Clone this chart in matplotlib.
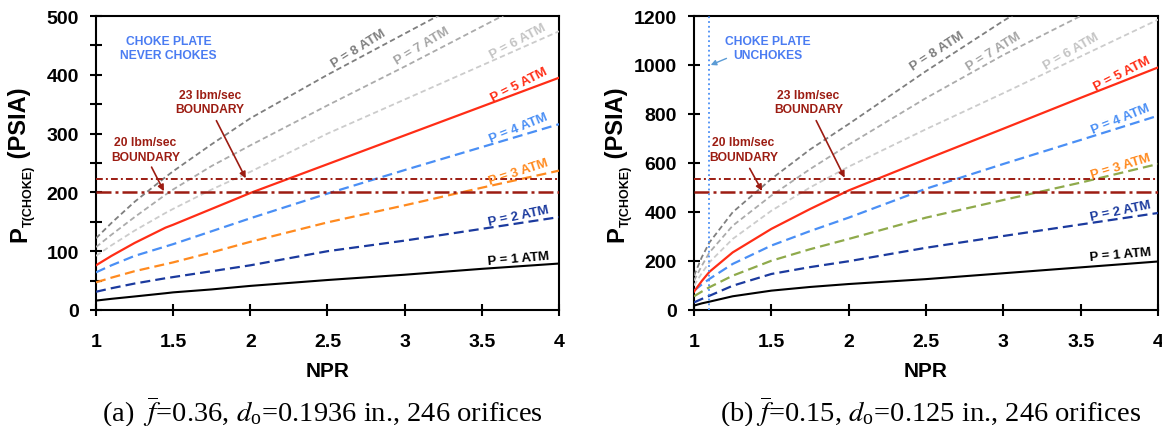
"""Choke-plate total pressure against NPR for two orifice plate designs."""

import matplotlib

matplotlib.use("Agg")
import matplotlib.pyplot as plt
from matplotlib.ticker import MultipleLocator
from matplotlib.transforms import IdentityTransform

plt.rcParams["font.family"] = ["Liberation Sans", "DejaVu Sans"]
plt.rcParams["mathtext.fontset"] = "stix"

# panel (a): f = 0.36, do = 0.1936 in.
NPR_A = [1.0, 1.1, 1.25, 1.45, 1.5, 1.75, 2.0, 2.5, 3.0, 3.5, 4.0]
A_P1 = [16, 19, 23, 28.5, 30, 35, 41, 51, 60, 70, 79]
A_P2 = [31, 37, 45, 54, 56, 66, 76, 100, 118, 138, 158]
A_P3 = [47, 55, 66, 78, 81, 98, 116, 149, 178, 208, 237]
A_P4 = [64, 76, 92, 108, 112, 134, 156, 198, 238, 277, 316]
A_P5 = [76, 92, 114, 140, 145, 172, 199, 248, 297, 346, 395]
A_P6 = [92, 110, 135, 165, 172, 205, 235, 300, 358, 416, 474]
A_P7 = [107, 128, 158, 196, 205, 245, 280, 348, 414, 482, 550]
A_P8 = [122, 148, 184, 226, 236, 282, 326, 400, 470, 540, 610]
A_BOUNDARY_20 = 200
A_BOUNDARY_23 = 222

# panel (b): f = 0.15, do = 0.125 in.
NPR_B = [1.0, 1.05, 1.1, 1.25, 1.5, 1.75, 2.0, 2.5, 3.0, 3.5, 4.0]
B_P1 = [18, 27, 34, 56, 79, 94, 106, 126, 150, 174, 198]
B_P2 = [31, 45, 58, 99, 147, 175, 199, 254, 302, 349, 396]
B_P3 = [56, 75, 93, 140, 201, 248, 290, 377, 449, 520, 596]
B_P4 = [79, 104, 127, 188, 263, 322, 377, 495, 596, 694, 793]
B_P5 = [75, 118, 156, 235, 331, 412, 488, 615, 740, 866, 990]
B_P6 = [100, 150, 195, 290, 405, 500, 585, 738, 885, 1035, 1185]
B_P7 = [120, 180, 235, 344, 467, 575, 675, 865, 1041, 1200, 1355]
B_P8 = [140, 215, 276, 399, 535, 655, 759, 975, 1180, 1370, 1550]
B_BOUNDARY_20 = 483
B_BOUNDARY_23 = 535
B_UNCHOKE_NPR = 1.1

PRESSURE_LABELS = [f"P = {p} ATM" for p in range(1, 9)]
X_TICKS = [1, 1.5, 2, 2.5, 3, 3.5, 4]
X_TICK_LABELS = ["1", "1.5", "2", "2.5", "3", "3.5", "4"]
CAPTION_A = r"(a)  $\overline{f}$=0.36, $d_\mathregular{o}$=0.1936 in., 246 orifices"
CAPTION_B = r"(b) $\overline{f}$=0.15, $d_\mathregular{o}$=0.125 in., 246 orifices"

DARK_RED = "#9c1c12"
CHOKE_BLUE = "#4a7cf2"

W, H = 1162, 427

# (line colour, label colour, linewidth, dashes) for P = 1 ... 8 ATM
LONG_DASH = (4.5, 2.3)
SHORT_DASH = (3.0, 1.8)
STYLES_A = [
    ("#000000", "#000000", 1.5, None),
    ("#1b3a9e", "#1b3a9e", 1.6, LONG_DASH),
    ("#ff8a1f", "#ff8a1f", 1.6, LONG_DASH),
    ("#4a8ff5", "#4a8ff5", 1.6, LONG_DASH),
    ("#ff2d16", "#ff2d16", 1.6, None),
    ("#cccccc", "#c4c4c4", 1.3, SHORT_DASH),
    ("#ababab", "#a6a6a6", 1.3, SHORT_DASH),
    ("#7f7f7f", "#7f7f7f", 1.3, SHORT_DASH),
]
STYLES_B = list(STYLES_A)
STYLES_B[2] = ("#8faa4b", "#ff8a1f", 1.6, LONG_DASH)


def draw_panel(ax, npr, curves, styles, label_spots, y_max, y_step, y_minor,
               boundaries):
    for values, (color, _, lw, dashes) in zip(curves, styles):
        line, = ax.plot(npr, values, color=color, lw=lw, zorder=3)
        if dashes:
            line.set_dashes(dashes)

    for label, (_, color_text, _, _), (x, y, rot) in zip(
            PRESSURE_LABELS, styles, label_spots):
        ax.text(x, y, label, color=color_text, fontsize=9.5, rotation=rot,
                rotation_mode="anchor", ha="center", va="center",
                fontweight="bold", zorder=5)

    low, high = boundaries
    ax.axhline(low, color=DARK_RED, lw=1.8, dashes=(6, 1.6, 1.2, 1.6), zorder=4)
    ax.axhline(high, color=DARK_RED, lw=1.4, dashes=(3.5, 1.6, 1.0, 1.6), zorder=4)

    ax.set_xlim(1, 4)
    ax.set_ylim(0, y_max)
    ax.set_xticks(X_TICKS, X_TICK_LABELS)
    ax.yaxis.set_major_locator(MultipleLocator(y_step))
    if y_minor:
        ax.yaxis.set_minor_locator(MultipleLocator(y_minor))
    ax.tick_params(which="both", direction="inout", length=8.5, width=1.5,
                   labelsize=14)
    ax.tick_params(axis="x", pad=12)
    ax.tick_params(axis="y", pad=8)
    for lbl in ax.get_xticklabels() + ax.get_yticklabels():
        lbl.set_fontweight("bold")
    ax.set_xlabel("NPR", fontsize=15, fontweight="bold", labelpad=8)
    for spine in ax.spines.values():
        spine.set_linewidth(1.5)


def boundary_note(ax, text, xy_text, xy_tip, xy_tail):
    ax.text(*xy_text, text, color=DARK_RED, fontsize=8.7, fontweight="bold",
            ha="center", va="center", linespacing=1.25, zorder=6)
    ax.annotate("", xy=xy_tip, xytext=xy_tail, zorder=6,
                arrowprops=dict(arrowstyle="-|>", color=DARK_RED, lw=1.2,
                                mutation_scale=9, shrinkA=0, shrinkB=0))


def vertical_label(fig, x_px, y_center_px, pieces):
    """Stack rotated text pieces bottom-to-top so the subscript can be small."""
    renderer = fig.canvas.get_renderer()
    placed = []
    for text, size, dx in pieces:
        t = fig.text(0, 0, text, rotation=90, fontsize=size, fontweight="bold",
                     ha="right", va="bottom", transform=IdentityTransform())
        placed.append((t, dx, t.get_window_extent(renderer).height))
    y = y_center_px - sum(h for _, _, h in placed) / 2
    for t, dx, h in placed:
        t.set_position((x_px + dx, y))
        y += h


fig = plt.figure(figsize=(W / 100, H / 100), dpi=100)
ax_a = fig.add_axes([96 / W, 116 / H, 463 / W, 294 / H])
ax_b = fig.add_axes([694 / W, 116 / H, 464 / W, 294 / H])

spots_a = [(3.74, 88, 5), (3.74, 160, 12), (3.74, 236, 18), (3.74, 310, 22),
           (3.74, 384, 27), (3.73, 457, 28), (3.11, 449, 31), (2.70, 446, 32)]
draw_panel(ax_a, NPR_A, [A_P1, A_P2, A_P3, A_P4, A_P5, A_P6, A_P7, A_P8],
           STYLES_A, spots_a, 500, 100, 50, (A_BOUNDARY_20, A_BOUNDARY_23))
ax_a.text(1.47, 446, "CHOKE PLATE\nNEVER CHOKES", color=CHOKE_BLUE,
          fontsize=8.7, fontweight="bold", ha="center", va="center",
          linespacing=1.25)
boundary_note(ax_a, "23 lbm/sec\nBOUNDARY", (1.74, 354), (1.97, 224), (1.78, 322))
boundary_note(ax_a, "20 lbm/sec\nBOUNDARY", (1.32, 273), (1.44, 202), (1.36, 243))

spots_b = [(3.76, 226, 5), (3.76, 405, 12), (3.76, 589, 17), (3.76, 780, 22),
           (3.77, 967, 27), (3.44, 1056, 30), (2.94, 1058, 32), (2.57, 1057, 33)]
draw_panel(ax_b, NPR_B, [B_P1, B_P2, B_P3, B_P4, B_P5, B_P6, B_P7, B_P8],
           STYLES_B, spots_b, 1200, 200, None, (B_BOUNDARY_20, B_BOUNDARY_23))
ax_b.axvline(B_UNCHOKE_NPR, color="#4a8ff5", lw=1.3, ls=":", zorder=4)
ax_b.text(1.48, 1069, "CHOKE PLATE\nUNCHOKES", color=CHOKE_BLUE,
          fontsize=8.7, fontweight="bold", ha="center", va="center",
          linespacing=1.25)
ax_b.annotate("", xy=(1.108, 1000), xytext=(1.21, 1027),
              arrowprops=dict(arrowstyle="-|>", color="#5b9bd5", lw=1.0,
                              mutation_scale=8, shrinkA=0, shrinkB=0))
boundary_note(ax_b, "23 lbm/sec\nBOUNDARY", (1.74, 849), (1.974, 540), (1.79, 773))
boundary_note(ax_b, "20 lbm/sec\nBOUNDARY", (1.32, 655), (1.44, 486), (1.36, 578))

label_pieces = [("P", 17, 0), ("T(CHOKE)", 9, 3.5), (" (PSIA)", 17, 0)]
vertical_label(fig, 31, H - 165, label_pieces)
vertical_label(fig, 628, H - 165, label_pieces)

caption_style = dict(ha="center", va="baseline", fontsize=20.5,
                     family="Liberation Serif", weight="normal")
fig.text(322 / W, 6 / H, CAPTION_A, **caption_style)
fig.text(931 / W, 6 / H, CAPTION_B, **caption_style)

fig.savefig("out.png", dpi=100)
